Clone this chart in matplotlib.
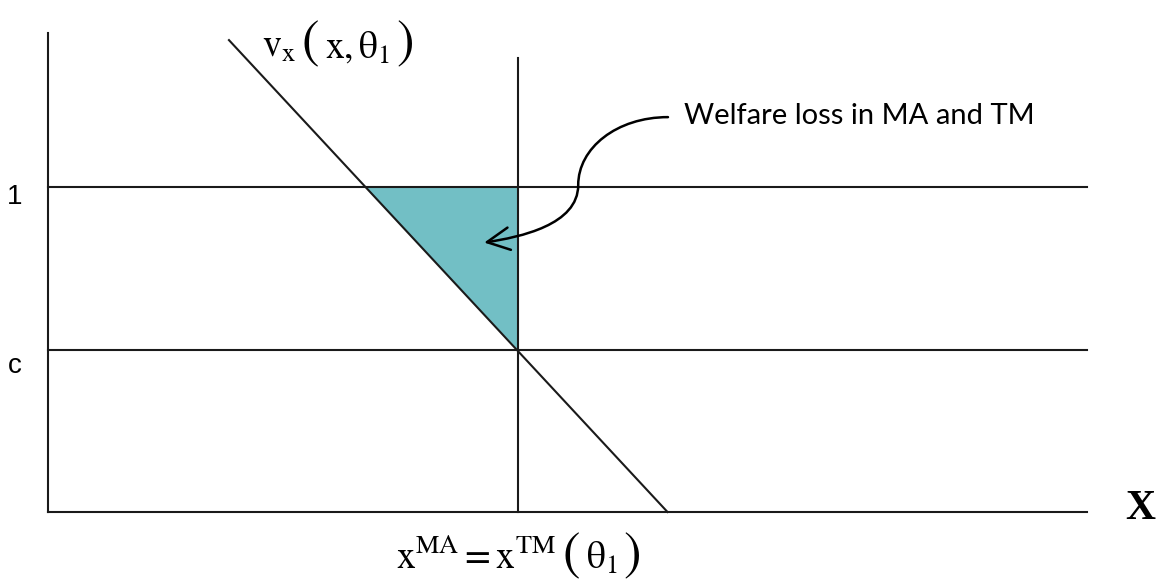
"""Welfare loss triangle between demand v_x(x, theta_1) and price lines 1 and c."""

import matplotlib.pyplot as plt
import numpy as np
from matplotlib.offsetbox import AnnotationBbox, HPacker, TextArea
from matplotlib.patches import FancyArrowPatch
from matplotlib.path import Path

plt.rcParams["mathtext.fontset"] = "stix"
plt.rcParams["mathtext.default"] = "rm"

# price levels (y) and the MA / TM quantity (x)
price_high = 1.0
price_c = 0.5
x_ma = 1.0

# demand curve v_x(x, theta_1)
demand_x = [0.385, 1.318]
demand_v = [1.452, 0.0]

x_axis_end = 2.21
y_axis_end = 1.474
vline_top = 1.397

LINE = "#1a1a1a"
FILL = "#72bfc5"


def _math_label(ax, parts, xy, align):
    boxes = [TextArea(s, textprops=dict(fontsize=fs)) for s, fs in parts]
    pack = HPacker(children=boxes, align="baseline", pad=0, sep=4)
    ab = AnnotationBbox(pack, xy, frameon=False, box_alignment=align, pad=0)
    ax.add_artist(ab)


def main() -> None:
    fig = plt.figure(figsize=(11.7, 5.86), dpi=100)
    ax = fig.add_axes([0, 0, 1, 1])
    ax.set_xlim(-0.1021, 2.387)
    ax.set_ylim(-0.2277, 1.5754)
    ax.axis("off")

    # triangle: demand, price 1, and x_ma
    x_left = float(np.interp(price_high, demand_v[::-1], demand_x[::-1]))
    ax.fill([x_left, x_ma, x_ma], [price_high, price_high, price_c], color=FILL, lw=0, zorder=1)

    lw = 1.5
    ax.plot([0, 0], [0, y_axis_end], color=LINE, lw=lw, zorder=2)
    ax.plot([0, x_axis_end], [0, 0], color=LINE, lw=lw, zorder=2)
    ax.plot([0, x_axis_end], [price_high, price_high], color=LINE, lw=lw, zorder=2)
    ax.plot([0, x_axis_end], [price_c, price_c], color=LINE, lw=lw, zorder=2)
    ax.plot([x_ma, x_ma], [0, vline_top], color=LINE, lw=lw, zorder=2)
    ax.plot(demand_x, demand_v, color=LINE, lw=lw, zorder=2)

    ax.text(-0.071, price_high - 0.03, "1", fontsize=20, family="Liberation Sans", ha="center", va="center")
    ax.text(-0.071, price_c - 0.052, "c", fontsize=20, family="Liberation Sans", ha="center", va="center")

    _math_label(ax, [(r"$v_{x}$", 27), (r"$($", 38), (r"$x,\theta_{1}$", 27), (r"$)$", 38)],
                (0.455, 1.445), (0, 0.5))
    _math_label(ax, [(r"$x^{MA}=x^{TM}$", 27), (r"$($", 38), (r"$\theta_{1}$", 27), (r"$)$", 38)],
                (x_ma, -0.13), (0.5, 0.5))
    ax.text(2.323, 0.01, "X", fontsize=30, family="Liberation Serif", weight="bold",
            ha="center", va="center")

    ax.text(1.353, 1.217, "Welfare loss in MA and TM", fontsize=21, family="Lato",
            ha="left", va="center")

    verts = [(1.319, 1.215), (1.210, 1.215), (1.128, 1.120), (1.128, 1.006),
             (1.128, 0.883), (1.004, 0.846), (0.928, 0.829)]
    codes = [Path.MOVETO, Path.CURVE4, Path.CURVE4, Path.CURVE4,
             Path.CURVE4, Path.CURVE4, Path.CURVE4]
    arrow = FancyArrowPatch(path=Path(verts, codes), arrowstyle="->,head_length=0.9,head_width=0.45",
                            mutation_scale=18, color="black", lw=1.8, zorder=3)
    ax.add_patch(arrow)

    fig.savefig("out.png", dpi=100)
    plt.close(fig)


if __name__ == "__main__":
    main()
